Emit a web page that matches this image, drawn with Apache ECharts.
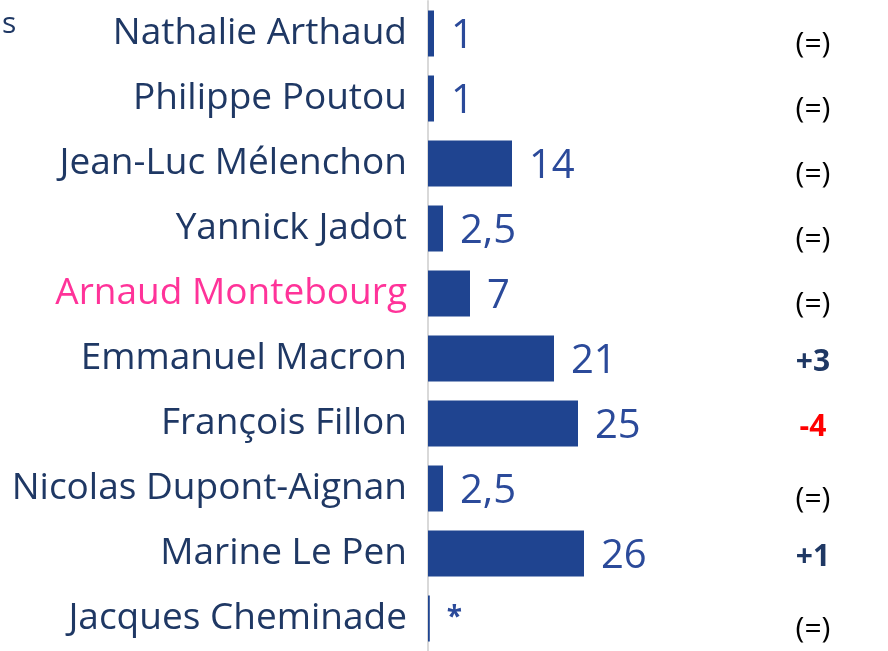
<!DOCTYPE html>
<html>
<head>
<meta charset="utf-8">
<script src="https://cdn.jsdelivr.net/npm/echarts@6/dist/echarts.min.js"></script>
<style>
  html, body { margin: 0; padding: 0; background: #fff; }
  #chart { width: 888px; height: 651px; }
</style>
</head>
<body>
<div id="chart"></div>
<script>
// candidats, de haut en bas
var names = ['Nathalie Arthaud', 'Philippe Poutou', 'Jean-Luc Mélenchon', 'Yannick Jadot',
  'Arnaud Montebourg', 'Emmanuel Macron', 'François Fillon', 'Nicolas Dupont-Aignan',
  'Marine Le Pen', 'Jacques Cheminade'];
var values = [1, 1, 14, 2.5, 7, 21, 25, 2.5, 26, 0.3];
var valueLabels = ['1', '1', '14', '2,5', '7', '21', '25', '2,5', '26', '*'];
var changes = ['(=)', '(=)', '(=)', '(=)', '(=)', '+3', '-4', '(=)', '+1', '(=)'];

var font = 'Open Sans';
var myChart = echarts.init(document.getElementById('chart'));

var option = {
    animation: false,
    title: {
        text: 's',
        left: -3,
        top: 4,
        textStyle: { color: '#1f3864', fontSize: 30, fontWeight: 'normal', fontFamily: font }
    },
    grid: { left: 428, top: 1, width: 360, height: 653 },
    xAxis: {
        type: 'value', min: 0, max: 60, show: false
    },
    yAxis: [
        {
            type: 'category',
            data: names,
            inverse: true,
            axisTick: { show: false },
            axisLine: { show: true, lineStyle: { color: '#d9d9d9', width: 2 } },
            axisLabel: {
                margin: 21,
                fontSize: 37,
                fontFamily: font,
                padding: [8, 0, 0, 0],
                color: function (v) {
                    return v === 'Arnaud Montebourg' ? '#ff3399' : '#1f3864';
                }
            }
        },
        {
            type: 'category',
            data: changes,
            inverse: true,
            position: 'right',
            axisTick: { show: false },
            axisLine: { show: false },
            axisLabel: {
                margin: 25,
                align: 'center',
                formatter: function (v) {
                    if (v === '(=)') return '{eq|' + v + '}';
                    if (v.charAt(0) === '-') return '{neg|' + v + '}';
                    return '{pos|' + v + '}';
                },
                rich: {
                    eq: { fontSize: 30, fontFamily: font, color: '#000', padding: [22, 0, 0, 0] },
                    pos: { fontSize: 30, fontFamily: font, fontWeight: 'bold', color: '#1f3864', padding: [8, 0, 0, 0] },
                    neg: { fontSize: 30, fontFamily: font, fontWeight: 'bold', color: '#ff0000', padding: [8, 0, 0, 0] }
                }
            }
        }
    ],
    series: [
        {
            type: 'bar',
            data: values,
            barWidth: 46,
            itemStyle: { color: '#1f4490' },
            label: {
                show: true,
                position: 'right',
                distance: 17,
                fontFamily: font,
                color: '#2b4a9a',
                formatter: function (p) {
                    var t = valueLabels[p.dataIndex];
                    return t === '*' ? '{star|*}' : '{num|' + t + '}';
                },
                rich: {
                    num: { fontSize: 40, fontFamily: font, color: '#2b4a9a', padding: [6, 0, 0, 0] },
                    star: { fontSize: 28, fontFamily: font, fontWeight: 'bold', color: '#2b4a9a' }
                }
            }
        }
    ]
};

myChart.setOption(option, true);
</script>
</body>
</html>
